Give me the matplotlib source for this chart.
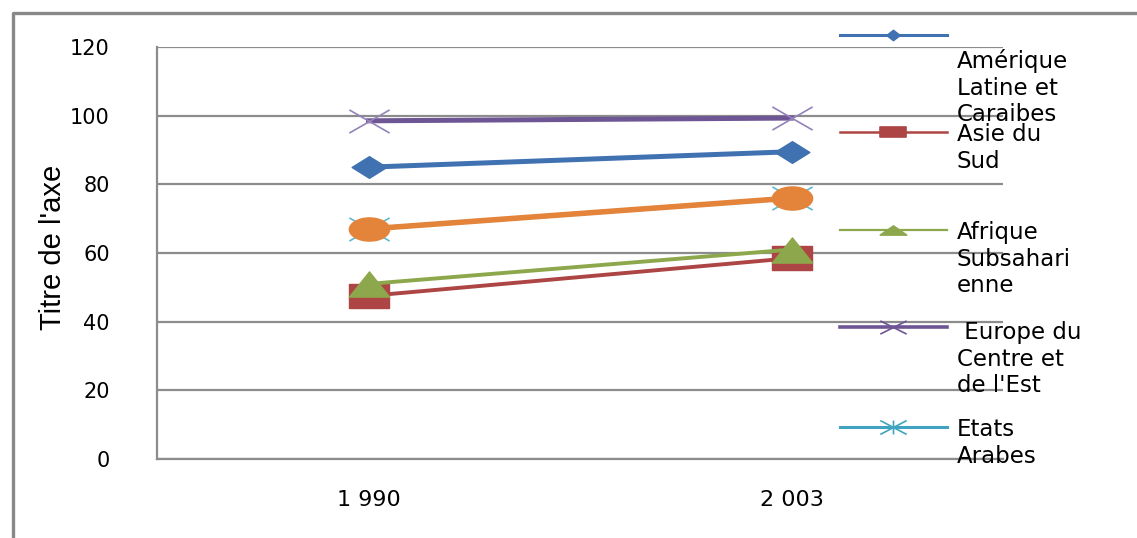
import numpy as np
import matplotlib
matplotlib.use("Agg")
import matplotlib.pyplot as plt
import matplotlib.path as mpath
from matplotlib.lines import Line2D
from matplotlib.transforms import Affine2D

years = ["1 990", "2 003"]
amerique = [85, 89.5]
asie_sud = [47.5, 58.5]
afrique = [51, 61]
europe = [98.5, 99.3]
etats_arabes = [67, 76]
serie6 = [67, 76]   # orange series, its legend entry is cut off in the original

labels = ["Amérique\nLatine et\nCaraibes", "Asie du\nSud", "Afrique\nSubsahari\nenne",
          " Europe du\nCentre et\nde l'Est", "Etats\nArabes"]
colors = ["#4072B2", "#AC4543", "#8DA84C", "#6E5594", "#40A3C0", "#E3843A"]

W, H = 1137, 538
fig = plt.figure(figsize=(W / 100, H / 100), dpi=100)

def fx(px):
    return px / W

def fy(py):
    return 1 - py / H

# stretched marker shapes (the original picture is squashed vertically)
def poly(pts):
    pts = list(pts) + [pts[0]]
    codes = [mpath.Path.MOVETO] + [mpath.Path.LINETO] * (len(pts) - 2) + [mpath.Path.CLOSEPOLY]
    return mpath.Path(pts, codes)

def diamond(s):
    return poly([(-s, 0), (0, 1), (s, 0), (0, -1)])

def rect(s):
    return poly([(-s, -1), (s, -1), (s, 1), (-s, 1)])

def tri(s):
    return poly([(-s, -1), (s, -1), (0, 1)])

def ellipse(s):
    return mpath.Path.unit_circle().transformed(Affine2D().scale(s, 1))

def cross(s):
    M, L = mpath.Path.MOVETO, mpath.Path.LINETO
    return mpath.Path([(-s, -1), (s, 1), (-s, 1), (s, -1)], [M, L, M, L])

def star(s):
    M, L = mpath.Path.MOVETO, mpath.Path.LINETO
    return mpath.Path([(-s, -1), (s, 1), (-s, 1), (s, -1), (0, -1), (0, 1)], [M, L, M, L, M, L])

ax = fig.add_axes([fx(157), fy(459), fx(1003) - fx(157), fy(47) - fy(459)])
x = np.arange(len(years))

ax.plot(x, amerique, color=colors[0], lw=3.6, marker=diamond(1.6), ms=25, mfc=colors[0], mec=colors[0], zorder=3)
ax.plot(x, asie_sud, color=colors[1], lw=2.8, marker=rect(1.74), ms=29, mfc=colors[1], mec=colors[1], zorder=3)
ax.plot(x, afrique, color=colors[2], lw=2.8, marker=tri(1.6), ms=29, mfc=colors[2], mec=colors[2], zorder=3)
ax.plot(x, europe, color=colors[3], lw=3.6, marker=cross(1.74), ms=29, mfc="none", mec="#9482B8", mew=1.2, zorder=3)
ax.plot(x, etats_arabes, color=colors[4], lw=3, marker=star(1.74), ms=29, mfc="none", mec="#5CB8D2", mew=1.2, zorder=3)
ax.plot(x, serie6, color=colors[5], lw=4, marker=ellipse(1.74), ms=29, mfc=colors[5], mec=colors[5], zorder=3)

ax.set_xlim(-0.5, 1.5)
ax.set_ylim(0, 120)
ax.set_yticks(np.arange(0, 121, 20))
ax.set_xticks(x)
ax.set_xticklabels(years)
ax.grid(axis="y", color="#8C8C8C", lw=1.6)
ax.set_axisbelow(True)
for s in ["top", "right"]:
    ax.spines[s].set_visible(False)
for s in ["left", "bottom"]:
    ax.spines[s].set_color("#8C8C8C")
    ax.spines[s].set_linewidth(1.6)
ax.tick_params(axis="y", length=0, pad=34, labelsize=15)
ax.tick_params(axis="x", length=0, pad=22, labelsize=16)

fig.text(fx(53), fy(247), "Titre de l'axe", rotation=90, ha="center", va="center",
         fontsize=21, family="Liberation Sans")

# chart border (left and top)
fig.add_artist(Line2D([fx(13), fx(13), fx(W + 5)], [fy(H), fy(13), fy(13)], transform=fig.transFigure,
                      color="#888888", lw=2.4))

# legend at the right, drawn by hand to keep the original's odd placement
leg_y = [35, 132, 230, 327, 427]
txt_y = [58, 132, 230, 330, 427]
leg_mk = [(diamond(1.3), 9.5), (rect(2.4), 19), (tri(2.9), 19), (cross(2.0), 19), (star(1.9), 19)]
leg_lw = [2.2, 1.8, 1.6, 2.6, 2.2]
for i in range(5):
    mk, ms = leg_mk[i]
    filled = i < 3
    fig.add_artist(Line2D([fx(840), fx(893), fx(947)], [fy(leg_y[i])] * 3, transform=fig.transFigure,
                          color=colors[i], lw=leg_lw[i], marker=mk, ms=ms, markevery=[1],
                          mfc=colors[i] if filled else "none", mec=colors[i], mew=1.2))
    fig.text(fx(957), fy(txt_y[i] - 9), labels[i], ha="left", va="top", fontsize=16.5,
             linespacing=1.2, family="DejaVu Sans")

fig.savefig("out.png", dpi=100)
